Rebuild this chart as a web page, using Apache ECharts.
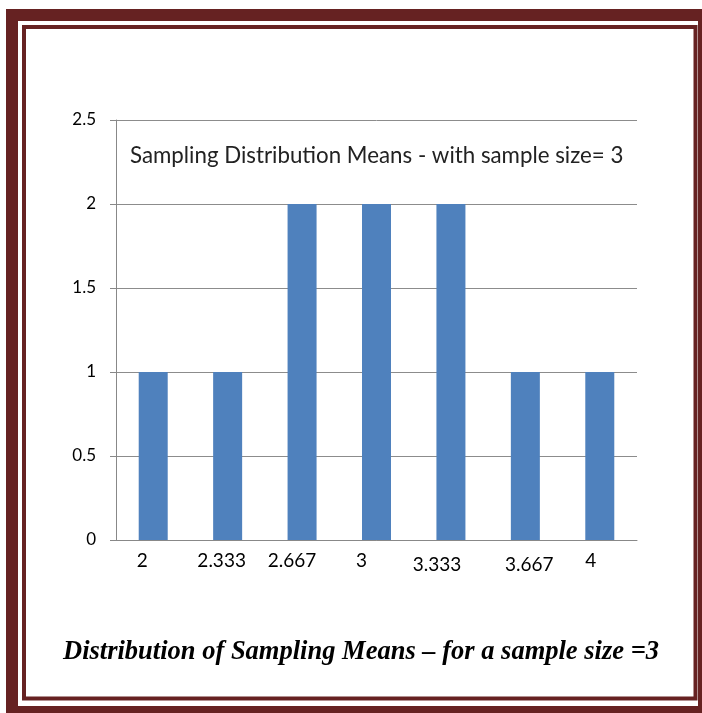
<!DOCTYPE html>
<html>
<head>
<meta charset="utf-8">
<script src="https://cdn.jsdelivr.net/npm/echarts@6/dist/echarts.min.js"></script>
<style>
html,body{margin:0;padding:0;background:#fff;}
#c{width:702px;height:713px;}
</style>
</head>
<body>
<div id="c"></div>
<script>
const categories = ['2', '2.333', '2.667', '3', '3.333', '3.667', '4'];
const counts = [1, 1, 2, 2, 2, 1, 1];
const yTicks = { min: 0, max: 2.5, interval: 0.5 };
const innerTitle = 'Sampling Distribution Means - with sample size= 3';
const caption = 'Distribution of Sampling Means \u2013 for a sample size =3';

// per-label nudges (style only): horizontal shift and vertical shift in px
const labelShiftX = [-11, -6, -10, -15, -14, 4, -9];
const labelShiftY = [0, 0, 0, 0, 4, 4, 0];

const rich = {};
labelShiftX.forEach(function (dx, i) {
  const dy = labelShiftY[i];
  rich['l' + i] = {
    fontFamily: 'Lato, "Open Sans", sans-serif', fontSize: 19, color: '#000',
    padding: [dy, dx < 0 ? -dx * 2 : 0, 0, dx > 0 ? dx * 2 : 0]
  };
});

const chart = echarts.init(document.getElementById('c'), null, { renderer: 'canvas' });
const frame = '#662222';
chart.setOption({
  animation: false,
  backgroundColor: '#fff',
  grid: { left: 116, top: 120, right: 65, bottom: 173 },
  title: [
    { text: innerTitle, left: 125, top: 140,
      textStyle: { fontFamily: 'Lato, "Open Sans", sans-serif', fontSize: 22.3, fontWeight: 'normal', color: '#222' } },
    { text: caption, left: 58, top: 634,
      textStyle: { fontFamily: '"Liberation Serif", "DejaVu Serif", serif', fontSize: 26.5, fontWeight: 'bold', fontStyle: 'italic', color: '#000' } }
  ],
  xAxis: {
    type: 'category',
    data: categories,
    axisLine: { show: true, lineStyle: { color: '#888', width: 1 } },
    axisTick: { show: false },
    axisLabel: {
      margin: 11,
      formatter: function (v, i) { return '{l' + i + '|' + v + '}'; },
      rich: rich
    }
  },
  yAxis: {
    type: 'value',
    min: yTicks.min, max: yTicks.max, interval: yTicks.interval,
    axisLine: { show: true, lineStyle: { color: '#888', width: 1 } },
    axisTick: { show: true, length: 6, lineStyle: { color: '#888' } },
    splitLine: { lineStyle: { color: '#8c8c8c', width: 1 } },
    axisLabel: { color: '#000', fontFamily: 'Lato, "Open Sans", sans-serif', fontSize: 17, margin: 20 }
  },
  series: [{
    type: 'bar',
    data: counts,
    barWidth: 29,
    itemStyle: { color: '#4f81bd' }
  }],
  graphic: [
    { type: 'rect', shape: { x: 12, y: 15, width: 692, height: 697 },
      style: { fill: null, stroke: frame, lineWidth: 12 }, silent: true },
    { type: 'rect', shape: { x: 24, y: 27, width: 671.5, height: 671.5 },
      style: { fill: null, stroke: frame, lineWidth: 4 }, silent: true }
  ]
});
</script>
</body>
</html>
